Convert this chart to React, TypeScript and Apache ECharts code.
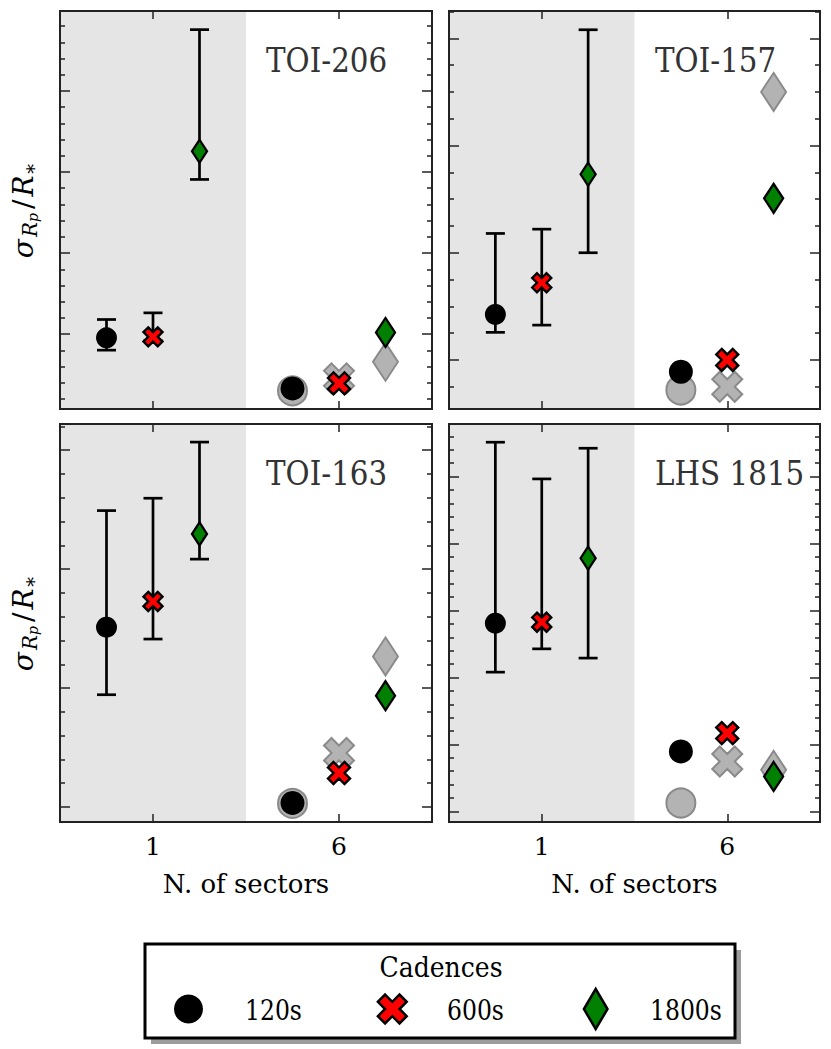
import React, { useEffect, useRef } from 'react';
import * as echarts from 'echarts';

// ---------- data ----------
const panelNames = ['TOI-206', 'TOI-157', 'TOI-163', 'LHS 1815'];
const sectorLabels = ['1', '6'];
const sectorPositions = [1, 3];
const cadenceNames = ['120s', '600s', '1800s'];
const cadenceOffsets = [-0.5, 0, 0.5];
const shadedSpan = [0, 2];
const xRange = [0, 4];

// y axis (no tick labels in the figure; arbitrary units, one unit per minor tick)
const yMin = [0.38, 2.17, 4.37, 4.21];
const yMax = [24.93, 17.02, 21.1, 33.93];
const yMajorStep = [5, 4, 5, 5];

// 1 sector (with error bars)
const one120 = [4.77, 5.7, 12.56, 19.06];
const one120Low = [4.01, 5.03, 9.72, 15.4];
const one120High = [5.9, 8.72, 17.46, 32.57];
const one600 = [4.83, 6.88, 13.64, 19.13];
const one600Low = [4.6, 5.3, 12.06, 17.14];
const one600High = [6.31, 8.88, 17.98, 29.83];
const one1800 = [16.28, 10.93, 16.48, 23.91];
const one1800Low = [14.54, 8.0, 15.42, 16.45];
const one1800High = [23.78, 16.32, 20.34, 32.12];

// 6 sectors
const six120 = [1.65, 3.56, 5.17, 9.48];
const six600 = [1.96, 4.0, 6.43, 10.85];
const six1800 = [5.1, 10.03, 9.68, 7.61];
const sixGray120 = [1.5, 2.88, 5.15, 5.63];
const sixGray600 = [2.27, 3.0, 7.27, 8.73];
const sixGray1800 = [3.29, 14.0, 11.33, 8.11];

// ---------- layout / style ----------
const gridRects = [
  { left: 60, top: 11, width: 372, height: 398 },
  { left: 449, top: 11, width: 371, height: 398 },
  { left: 60, top: 424, width: 372, height: 398 },
  { left: 449, top: 424, width: 371, height: 398 },
];
const FONT = 'DejaVu Serif';
const X_PATH = 'path://M1 0L2 1L3 0L4 1L3 2L4 3L3 4L2 3L1 4L0 3L1 2L0 1Z';
const X_UNIT = [[-1, -2], [0, -1], [1, -2], [2, -1], [1, 0], [2, 1], [1, 2], [0, 1], [-1, 2], [-2, 1], [-1, 0], [-2, -1]];
const GRAY_FILL = '#b3b3b3';
const GRAY_EDGE = '#8a8a8a';

function tickValues(i: number, major: boolean) {
  const out: number[] = [];
  for (let v = Math.ceil(yMin[i]); v <= yMax[i]; v++) {
    const isMajor = v % yMajorStep[i] === 0;
    if (isMajor === major) out.push(v);
  }
  return out;
}

function buildOption() {
  const grid: any[] = [];
  const xAxis: any[] = [];
  const yAxis: any[] = [];
  const series: any[] = [];
  const graphic: any[] = [];
  const tickLine = { color: '#222', width: 1.5 };

  for (let i = 0; i < 4; i++) {
    const r = gridRects[i];
    grid.push({ ...r, show: true, borderColor: '#222', borderWidth: 2, backgroundColor: 'transparent', z: 8 });
    const bottomRow = i >= 2;
    xAxis.push({
      type: 'value', gridIndex: i, position: 'bottom', min: xRange[0], max: xRange[1], z: 3,
      axisLine: { show: false }, splitLine: { show: false },
      axisTick: { show: true, inside: true, length: 8, customValues: sectorPositions, lineStyle: tickLine },
      axisLabel: {
        show: bottomRow, customValues: sectorPositions, margin: 12,
        formatter: (v: number) => sectorLabels[sectorPositions.indexOf(v)] ?? '',
        fontSize: 25, fontFamily: FONT, color: '#000',
      },
      name: bottomRow ? 'N. of sectors' : '', nameLocation: 'middle', nameGap: 49,
      nameTextStyle: { fontSize: 26, fontFamily: FONT, color: '#000' },
    });
    xAxis.push({
      type: 'value', gridIndex: i, position: 'top', min: xRange[0], max: xRange[1], z: 3,
      axisLine: { show: false }, splitLine: { show: false }, axisLabel: { show: false },
      axisTick: { show: true, inside: true, length: 8, customValues: sectorPositions, lineStyle: tickLine },
    });
    const ySides: [string, boolean, number][] = [['left', true, 10], ['left', false, 5], ['right', true, 10], ['right', false, 5]];
    ySides.forEach(([pos, major, len]) => {
      yAxis.push({
        type: 'value', gridIndex: i, position: pos, min: yMin[i], max: yMax[i], z: 3,
        axisLine: { show: false }, splitLine: { show: false }, axisLabel: { show: false },
        axisTick: { show: true, inside: true, length: len, customValues: tickValues(i, major), lineStyle: tickLine },
      });
    });

    const xi = 2 * i;
    const yi = 4 * i;
    // shaded region (1 sector)
    series.push({
      type: 'custom', xAxisIndex: xi, yAxisIndex: yi, z: 1, silent: true,
      data: [[shadedSpan[0], shadedSpan[1]]],
      encode: { x: [0, 1] },
      renderItem: (params: any, api: any) => {
        const cs = params.coordSys;
        const a = api.coord([api.value(0), yMin[i]]);
        const b = api.coord([api.value(1), yMin[i]]);
        return { type: 'rect', shape: { x: a[0], y: cs.y, width: b[0] - a[0], height: cs.height }, style: { fill: '#e5e5e5' } };
      },
    });
    // error bars
    const p1 = sectorPositions[0];
    const ebData = [
      [p1 + cadenceOffsets[0], one120Low[i], one120High[i]],
      [p1 + cadenceOffsets[1], one600Low[i], one600High[i]],
      [p1 + cadenceOffsets[2], one1800Low[i], one1800High[i]],
    ];
    series.push({
      type: 'custom', xAxisIndex: xi, yAxisIndex: yi, z: 3, silent: true,
      data: ebData, encode: { x: 0, y: [1, 2] },
      renderItem: (params: any, api: any) => {
        const x = api.value(0);
        const lo = api.coord([x, api.value(1)]);
        const hi = api.coord([x, api.value(2)]);
        const hw = 9.5;
        const st = { stroke: '#000', lineWidth: 2.7 };
        return {
          type: 'group',
          children: [
            { type: 'line', shape: { x1: lo[0], y1: lo[1], x2: hi[0], y2: hi[1] }, style: st },
            { type: 'line', shape: { x1: lo[0] - hw, y1: lo[1], x2: lo[0] + hw, y2: lo[1] }, style: st },
            { type: 'line', shape: { x1: hi[0] - hw, y1: hi[1], x2: hi[0] + hw, y2: hi[1] }, style: st },
          ],
        };
      },
    });
    const p6 = sectorPositions[1];
    const grayStyle = { color: GRAY_FILL, borderColor: GRAY_EDGE, borderWidth: 2, opacity: 1 };
    // gray markers (6 sectors)
    series.push(
      { type: 'scatter', xAxisIndex: xi, yAxisIndex: yi, z: 4, silent: true, symbol: 'circle', symbolSize: 29,
        itemStyle: grayStyle, data: [[p6 + cadenceOffsets[0], sixGray120[i]]] },
      { type: 'scatter', xAxisIndex: xi, yAxisIndex: yi, z: 4, silent: true, symbol: X_PATH, symbolSize: 30,
        itemStyle: grayStyle, data: [[p6 + cadenceOffsets[1], sixGray600[i]]] },
      { type: 'scatter', xAxisIndex: xi, yAxisIndex: yi, z: 4, silent: true, symbol: 'diamond', symbolSize: [25, 38],
        itemStyle: grayStyle, data: [[p6 + cadenceOffsets[2], sixGray1800[i]]] },
    );
    // colored markers
    series.push(
      { type: 'scatter', name: cadenceNames[0], xAxisIndex: xi, yAxisIndex: yi, z: 5, silent: true, symbol: 'circle',
        symbolSize: (v: number[]) => (v[0] > shadedSpan[1] ? 24 : 21),
        itemStyle: { color: '#000', borderColor: '#000', borderWidth: 0, opacity: 1 },
        data: [[p1 + cadenceOffsets[0], one120[i]], [p6 + cadenceOffsets[0], six120[i]]] },
      { type: 'scatter', name: cadenceNames[1], xAxisIndex: xi, yAxisIndex: yi, z: 5, silent: true, symbol: X_PATH,
        symbolSize: (v: number[]) => (v[0] > shadedSpan[1] ? 22 : 19),
        itemStyle: { color: '#ff0000', borderColor: '#000', borderWidth: 2.4, opacity: 1 },
        data: [[p1 + cadenceOffsets[1], one600[i]], [p6 + cadenceOffsets[1], six600[i]]] },
      { type: 'scatter', name: cadenceNames[2], xAxisIndex: xi, yAxisIndex: yi, z: 5, silent: true, symbol: 'diamond',
        symbolSize: (v: number[]) => (v[0] > shadedSpan[1] ? [19, 29] : [15, 23]),
        itemStyle: { color: '#008000', borderColor: '#000', borderWidth: 2.4, opacity: 1 },
        data: [[p1 + cadenceOffsets[2], one1800[i]], [p6 + cadenceOffsets[2], six1800[i]]] },
    );
    // panel title
    graphic.push({
      type: 'text', x: r.left + 206, y: r.top + 49.5, scaleX: 0.89, silent: true, z: 20,
      style: { text: panelNames[i], fontSize: 33, fontFamily: FONT, fill: '#333', align: 'left', verticalAlign: 'middle' },
    });
    // y label
    if (i % 2 === 0) {
      graphic.push({
        type: 'text', x: 23, y: r.top + r.height / 2, rotation: Math.PI / 2, silent: true, z: 20,
        style: {
          text: '{a|σ}{b|R}{c|p}{d|/}{a|R}{e|∗}',
          align: 'center', verticalAlign: 'middle', fill: '#000',
          rich: {
            a: { fontSize: 28, fontStyle: 'italic', fontFamily: FONT, lineHeight: 33, verticalAlign: 'middle' },
            b: { fontSize: 20, fontStyle: 'italic', fontFamily: FONT, lineHeight: 20, verticalAlign: 'bottom', padding: [0, 0, 0, 2] },
            c: { fontSize: 14, fontStyle: 'italic', fontFamily: FONT, lineHeight: 11, verticalAlign: 'bottom' },
            d: { fontSize: 28, fontFamily: FONT, lineHeight: 33, verticalAlign: 'middle', padding: [0, 3, 0, 4] },
            e: { fontSize: 20, fontFamily: FONT, lineHeight: 20, verticalAlign: 'bottom' },
          },
        },
      });
    }
  }

  // legend
  const lx = 145, ly = 944, lw = 590, lh = 94;
  const midY = 1009;
  graphic.push(
    { type: 'rect', shape: { x: lx + 6, y: ly + 6, width: lw, height: lh }, style: { fill: '#9c9c9c' }, z: 20, silent: true },
    { type: 'rect', shape: { x: lx, y: ly, width: lw, height: lh }, style: { fill: '#fff', stroke: '#000', lineWidth: 3 }, z: 21, silent: true },
    { type: 'text', x: 441, y: 967.5, scaleX: 0.93, z: 22, silent: true,
      style: { text: 'Cadences', fontSize: 27, fontFamily: FONT, fill: '#000', align: 'center', verticalAlign: 'middle' } },
    { type: 'circle', shape: { cx: 188.5, cy: midY, r: 14.5 }, style: { fill: '#000' }, z: 22, silent: true },
    { type: 'polygon', shape: { points: X_UNIT.map(([a, b]) => [392.3 + a * 7.2, midY + b * 7.2]) },
      style: { fill: '#ff0000', stroke: '#000', lineWidth: 2.5 }, z: 22, silent: true },
    { type: 'polygon', shape: { points: [[595.7, midY - 20], [607.5, midY], [595.7, midY + 20], [583.9, midY]] },
      style: { fill: '#008000', stroke: '#000', lineWidth: 2.5 }, z: 22, silent: true },
  );
  const legendTextX = [245, 447, 650];
  cadenceNames.forEach((n, k) => {
    graphic.push({ type: 'text', x: legendTextX[k], y: 1010.5, scaleX: 0.87, z: 22, silent: true,
      style: { text: n, fontSize: 27, fontFamily: FONT, fill: '#000', align: 'left', verticalAlign: 'middle' } });
  });

  return {
    animation: false,
    backgroundColor: '#fff',
    textStyle: { fontFamily: FONT },
    grid, xAxis, yAxis, series, graphic,
  };
}

export default function App() {
  const ref = useRef<HTMLDivElement>(null);
  useEffect(() => {
    if (!ref.current) return;
    const chart = echarts.init(ref.current, undefined, { renderer: 'svg' });
    chart.setOption(buildOption() as any);
    return () => chart.dispose();
  }, []);
  return <div ref={ref} style={{ position: 'absolute', left: 0, top: 0, width: 831, height: 1049 }} />;
}
